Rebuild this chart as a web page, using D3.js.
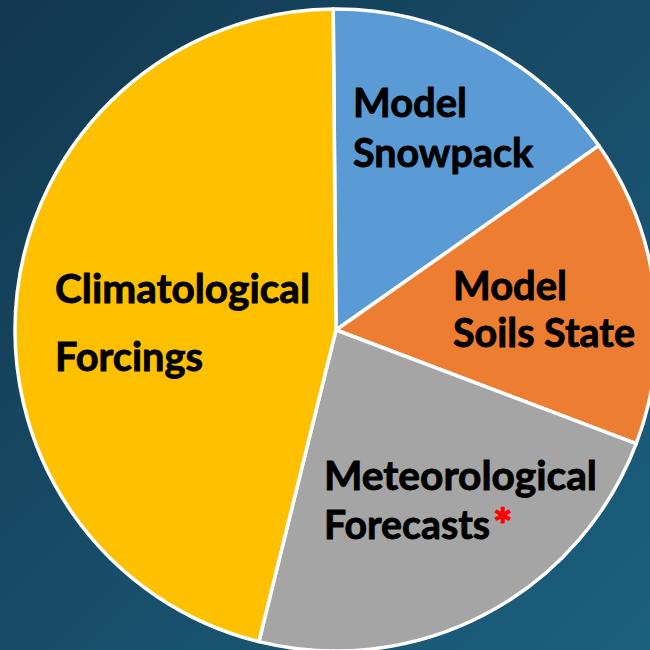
<!DOCTYPE html>
<html>
<head>
<meta charset="utf-8">
<script src="https://cdn.jsdelivr.net/npm/d3@7"></script>
<style>
  html, body { margin: 0; padding: 0; background: #164560; }
  svg { display: block; }
</style>
</head>
<body>
<svg id="chart"></svg>
<script>
// slice data, clockwise from the top
var categories = ["Model Snowpack", "Model Soils State", "Meteorological Forecasts", "Climatological Forcings"];
var shares = [15.4, 15.5, 23.1, 46.0];
var sliceColors = ["#5b9bd5", "#ed7d31", "#a5a5a5", "#ffc000"];
var labelLines = [["Model", "Snowpack"], ["Model", "Soils State"], ["Meteorological", "Forecasts"], ["Climatological", "Forcings"]];
var footnoteMark = "*"; // red mark after "Forecasts"

var w = 650, h = 650;
var cx = 336, cy = 330, r = 321;

var svg = d3.select("#chart").attr("width", w).attr("height", h);

var defs = svg.append("defs");
var grad = defs.append("linearGradient").attr("id", "bg")
    .attr("x1", "0").attr("y1", "0").attr("x2", "1").attr("y2", "1");
grad.append("stop").attr("offset", "0%").attr("stop-color", "#12384f");
grad.append("stop").attr("offset", "100%").attr("stop-color", "#1c6080");

svg.append("rect").attr("width", w).attr("height", h).attr("fill", "url(#bg)");

var pie = d3.pie().sort(null).value(function(d){return d;})
    .startAngle(-0.5 * Math.PI / 180).endAngle(2 * Math.PI - 0.5 * Math.PI / 180);
var arc = d3.arc().innerRadius(0).outerRadius(r);

var g = svg.append("g").attr("transform", `translate(${cx},${cy})`);

g.selectAll("path")
  .data(pie(shares))
  .enter()
  .append("path")
    .attr("d", arc)
    .attr("fill", function(d, i){return sliceColors[i];})
    .attr("stroke", "#ffffff")
    .attr("stroke-width", 3.5)
    .attr("stroke-linejoin", "round");

// label placement (left x, baselines, widths) per slice
var labelLayout = [
  {x: 353, y: [117, 167], wd: [114, 180]},
  {x: 453, y: [300, 347], wd: [114, 182]},
  {x: 324, y: [490, 539], wd: [273, 166]},
  {x: 55,  y: [303, 371], wd: [255, 148]}
];

var labels = svg.append("g")
    .attr("font-family", "Lato, 'Open Sans', sans-serif")
    .attr("font-weight", 700)
    .attr("font-size", 41)
    .attr("fill", "#000")
    .attr("stroke", "#000")
    .attr("stroke-width", 0.9);

labelLines.forEach(function(lines, i){
  var L = labelLayout[i];
  lines.forEach(function(t, j){
    labels.append("text")
      .attr("x", L.x)
      .attr("y", L.y[j])
      .attr("textLength", L.wd[j])
      .attr("lengthAdjust", "spacingAndGlyphs")
      .text(t);
  });
});

// red asterisk, its own text just right of "Forecasts"
labels.append("text")
  .attr("x", labelLayout[2].x + labelLayout[2].wd[1] + 3)
  .attr("y", 542)
  .attr("fill", "#ff0000")
  .attr("stroke", "#ff0000")
  .attr("stroke-width", 1.2)
  .attr("font-size", 46)
  .text(footnoteMark);
</script>
</body>
</html>
